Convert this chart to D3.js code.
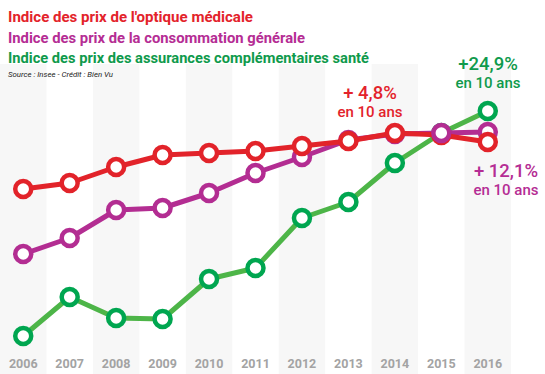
<!DOCTYPE html>
<html><head><meta charset="utf-8">
<script src="https://cdn.jsdelivr.net/npm/d3@7"></script>
<style>body{margin:0;background:#fff}svg{display:block}</style>
</head><body>
<script>
const years = ["2006","2007","2008","2009","2010","2011","2012","2013","2014","2015","2016"];
// values in chart index units (relative positions)
const optique = [185,191,207,219,221,223,228,233,241,239,232];
const conso   = [120,136,164,166,181,201,217,234,240,241,242];
const assur   = [38,77,56,55,95,106,156,172,211,241,263];
const titles = ["Indice des prix de l'optique médicale","Indice des prix de la consommation générale","Indice des prix des assurances complémentaires santé"];
const annotations = ["+ 4,8%","+24,9%","+ 12,1%"];
const sub = "en 10 ans";
const source = "Source : Insee - Crédit : Bien Vu";

const W=545,H=374;
const svg=d3.select("body").append("svg").attr("width",W).attr("height",H);
const x=d3.scaleBand().domain(years).range([0,511]);
const y=d3.scaleLinear().domain([0,374]).range([374,0]);
const cx=d=>x(d)+x.bandwidth()/2;

// stripes
svg.selectAll("rect.stripe").data(years.filter((d,i)=>i%2===0)).join("rect")
 .attr("x",d=>x(d)).attr("width",x.bandwidth()).attr("y",64).attr("height",H-64).attr("fill","#f7f7f7");

// year labels
svg.selectAll("text.yr").data(years).join("text").attr("x",cx).attr("y",368)
 .attr("text-anchor","middle").attr("font-family","Roboto, sans-serif").attr("font-weight","bold")
 .attr("font-size",12.5).attr("fill","#a3a3a3").text(d=>d);

// titles
const tcol=["#e3232b","#b52d94","#0f9a4c"];
const tw=[245,297,361];
svg.selectAll("text.t").data(titles).join("text").attr("x",8).attr("y",(d,i)=>22+i*20.5)
 .attr("font-family","Roboto, sans-serif").attr("font-weight","bold").attr("font-size",14.5)
 .attr("fill",(d,i)=>tcol[i]).attr("textLength",(d,i)=>tw[i]).attr("lengthAdjust","spacingAndGlyphs").text(d=>d);
svg.append("text").attr("x",8).attr("y",77).attr("font-family","Roboto, sans-serif").attr("font-style","italic")
 .attr("font-size",7).attr("fill","#222").attr("textLength",105).attr("lengthAdjust","spacingAndGlyphs").text(source);

const series=[
 {v:assur,line:"#4db548",dot:"#00a650"},
 {v:conso,line:"#b32d92",dot:"#b32d92"},
 {v:optique,line:"#e2232a",dot:"#e2232a"}
];
const line=d3.line().x((d,i)=>cx(years[i])).y(d=>y(d));
series.forEach((s,k)=>{
  const g=svg.append("g").attr("class","s"+k);
  g.append("path").datum(s.v).attr("d",line).attr("fill","none").attr("stroke",s.line).attr("stroke-width",5).attr("stroke-linejoin","round");
  g.selectAll("circle").data(s.v).join("circle").attr("cx",(d,i)=>cx(years[i])).attr("cy",d=>y(d))
   .attr("r",8).attr("fill","#fff").attr("stroke",s.dot).attr("stroke-width",4.5)
   .attr("class",(d,i)=>"c"+k+"_"+years[i]);
});
// purple 2015 point shown on top
svg.select(".c1_2015").each(function(){ svg.node().appendChild(this); });

// annotations
const ann=[{t:annotations[0],x:370,y:99,c:"#e3232b"},{t:annotations[1],x:488,y:70,c:"#0f9a4c"},{t:annotations[2],x:506,y:177,c:"#b52d94"}];
ann.forEach(a=>{
  svg.append("text").attr("x",a.x).attr("y",a.y).attr("text-anchor","middle").attr("font-family","Roboto, sans-serif")
   .attr("font-weight",500).attr("font-size",18.5).attr("fill",a.c).text(a.t);
  svg.append("text").attr("x",a.x).attr("y",a.y+18).attr("text-anchor","middle").attr("font-family","Roboto, sans-serif")
   .attr("font-weight",500).attr("font-size",15).attr("fill",a.c).text(sub);
});
</script>
</body></html>
